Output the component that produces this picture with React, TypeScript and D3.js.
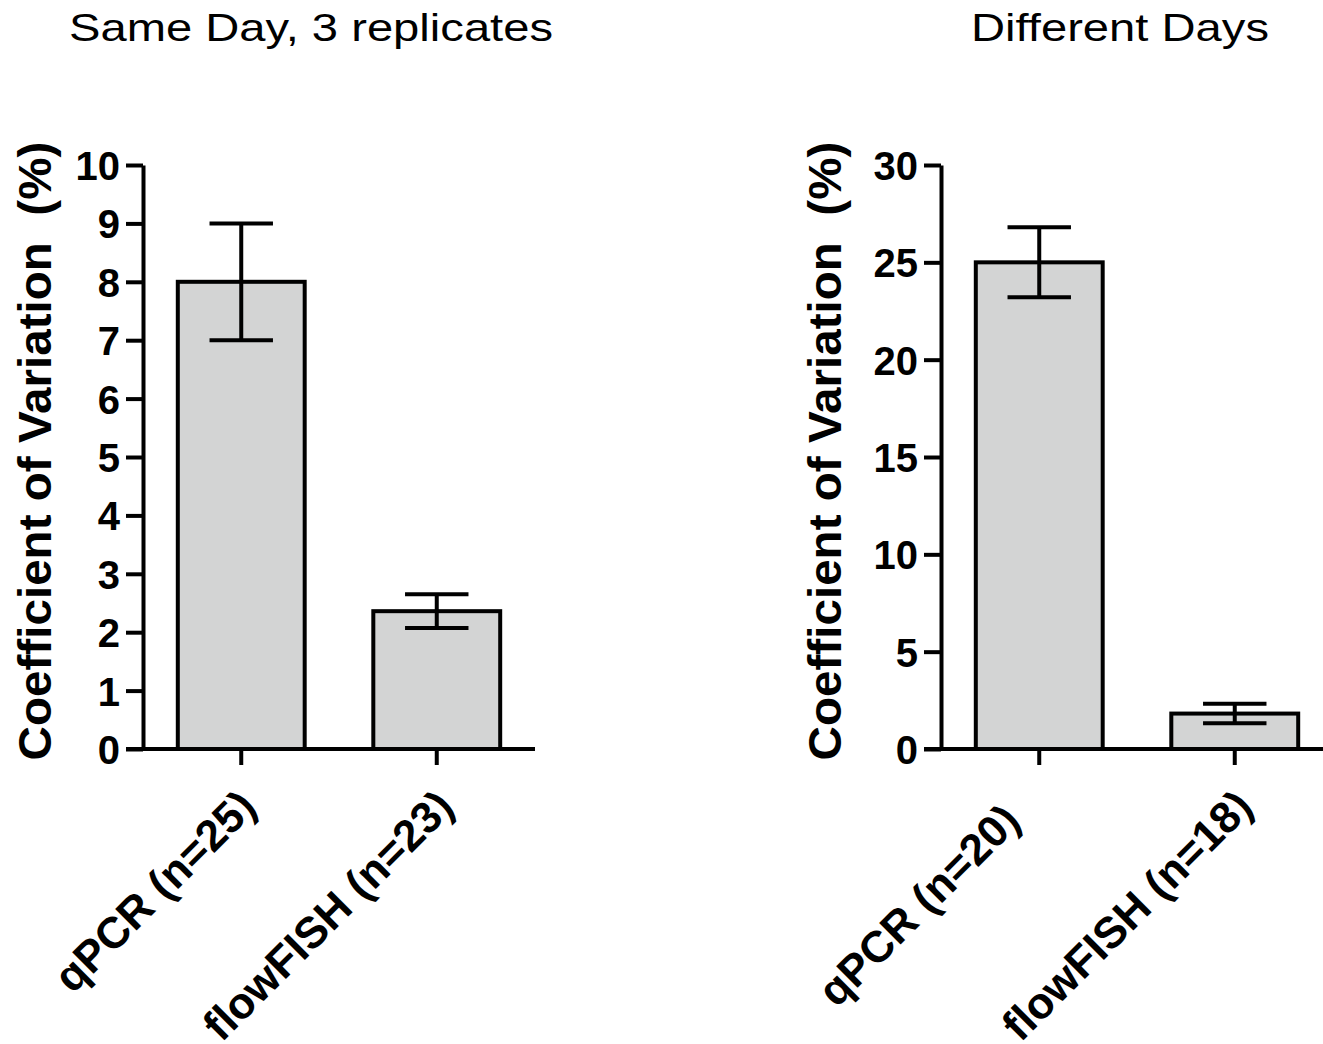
import React, { useEffect, useRef } from "react";
import * as d3 from "d3";

const width = 1323;
const height = 1044;

// left panel: same day, 3 replicates
const sameDayTitle = "Same Day, 3 replicates";
const sameDayCategories = ["qPCR (n=25)", "flowFISH (n=23)"];
const sameDayMeans = [8.0, 2.36];
const sameDayErrors = [1.0, 0.29];
const sameDayTicks = [0, 1, 2, 3, 4, 5, 6, 7, 8, 9, 10];

// right panel: different days
const diffDaysTitle = "Different Days";
const diffDaysCategories = ["qPCR (n=20)", "flowFISH (n=18)"];
const diffDaysMeans = [25.0, 1.82];
const diffDaysErrors = [1.8, 0.5];
const diffDaysTicks = [0, 5, 10, 15, 20, 25, 30];

const yLabel = "Coefficient of Variation  (%)";

const FONT = "'Liberation Sans', Arial, Helvetica, sans-serif";
const SW = 4;

function drawPanel(svg, opts) {
  const { title, titleX, axisX, rangeEnd, lineEnd, cats, means, errs, ticks, labelX, labelOffsets } = opts;
  const top = 165;
  const bottom = 749;

  const g = svg.append("g");

  const x = d3
    .scaleBand()
    .domain(cats)
    .range([axisX, rangeEnd])
    .paddingInner(0.351)
    .paddingOuter(0.178);

  const y = d3
    .scaleLinear()
    .domain([0, d3.max(ticks)])
    .range([bottom, top]);

  // bars
  g.selectAll(".bar")
    .data(cats)
    .join("rect")
    .attr("class", "bar")
    .attr("x", (d) => x(d))
    .attr("width", x.bandwidth())
    .attr("y", (d, i) => y(means[i]))
    .attr("height", (d, i) => y(0) - y(means[i]))
    .attr("fill", "#d3d4d4")
    .attr("stroke", "#000")
    .attr("stroke-width", SW);

  // error bars (mean +/- err)
  const cx = (d) => x(d) + x.bandwidth() / 2;
  const capW = x.bandwidth() / 2;
  const eb = g
    .selectAll(".err")
    .data(cats)
    .join("g")
    .attr("class", "err")
    .attr("stroke", "#000")
    .attr("stroke-width", SW);
  eb.append("line")
    .attr("x1", cx)
    .attr("x2", cx)
    .attr("y1", (d, i) => y(means[i] - errs[i]))
    .attr("y2", (d, i) => y(means[i] + errs[i]));
  eb.append("line")
    .attr("x1", (d) => cx(d) - capW / 2)
    .attr("x2", (d) => cx(d) + capW / 2)
    .attr("y1", (d, i) => y(means[i] + errs[i]))
    .attr("y2", (d, i) => y(means[i] + errs[i]));
  eb.append("line")
    .attr("x1", (d) => cx(d) - capW / 2)
    .attr("x2", (d) => cx(d) + capW / 2)
    .attr("y1", (d, i) => y(means[i] - errs[i]))
    .attr("y2", (d, i) => y(means[i] - errs[i]));

  // y axis
  const yAxis = g
    .append("g")
    .attr("transform", `translate(${axisX},0)`)
    .call(d3.axisLeft(y).tickValues(ticks).tickSize(17).tickPadding(6).tickSizeOuter(0));
  yAxis.select(".domain").attr("stroke-width", SW);
  yAxis.selectAll(".tick line").attr("stroke-width", SW);
  yAxis
    .selectAll(".tick text")
    .attr("font-family", FONT)
    .attr("font-weight", "bold")
    .attr("font-size", 40)
    .attr("fill", "#000")
    .attr("dy", "0.36em");

  // x axis
  const xAxis = g
    .append("g")
    .attr("transform", `translate(0,${bottom})`)
    .call(d3.axisBottom(x).tickSize(16).tickSizeOuter(0).tickFormat(() => ""));
  xAxis.select(".domain").remove();
  xAxis.selectAll(".tick line").attr("stroke-width", SW);
  g.append("line")
    .attr("x1", axisX - 17)
    .attr("x2", lineEnd)
    .attr("y1", bottom)
    .attr("y2", bottom)
    .attr("stroke", "#000")
    .attr("stroke-width", SW);

  // rotated category labels
  g.selectAll(".xlab")
    .data(cats)
    .join("text")
    .attr("class", "xlab")
    .attr(
      "transform",
      (d, i) =>
        `translate(${cx(d) + labelOffsets[i][0]},${bottom + labelOffsets[i][1]}) rotate(-45)`
    )
    .attr("text-anchor", "end")
    .attr("font-family", FONT)
    .attr("font-weight", "bold")
    .attr("font-size", 44)
    .text((d) => d);

  // y label
  g.append("text")
    .attr("transform", `translate(${labelX},451) rotate(-90) scale(1.035,1)`)
    .attr("text-anchor", "middle")
    .attr("font-family", FONT)
    .attr("font-weight", "bold")
    .attr("font-size", 46)
    .style("white-space", "pre")
    .text(yLabel);

  // title
  g.append("text")
    .attr("transform", `translate(${titleX},41) scale(1.21,1)`)
    .attr("text-anchor", "middle")
    .attr("font-family", FONT)
    .attr("font-size", 39)
    .text(title);
}

export default function App() {
  const ref = useRef(null);

  useEffect(() => {
    const svg = d3.select(ref.current);
    svg.selectAll("*").remove();

    drawPanel(svg, {
      title: sameDayTitle,
      titleX: 311,
      axisX: 143,
      rangeEnd: 535,
      lineEnd: 535,
      cats: sameDayCategories,
      means: sameDayMeans,
      errs: sameDayErrors,
      ticks: sameDayTicks,
      labelX: 51,
      labelOffsets: [
        [17, 60],
        [19, 60],
      ],
    });

    drawPanel(svg, {
      title: diffDaysTitle,
      titleX: 1120,
      axisX: 941,
      rangeEnd: 1333,
      lineEnd: 1323,
      cats: diffDaysCategories,
      means: diffDaysMeans,
      errs: diffDaysErrors,
      ticks: diffDaysTicks,
      labelX: 841,
      labelOffsets: [
        [-17, 74],
        [20, 60],
      ],
    });
  }, []);

  return (
    <svg
      ref={ref}
      width={width}
      height={height}
      style={{ position: "absolute", left: 0, top: 0, background: "#fff" }}
    />
  );
}
